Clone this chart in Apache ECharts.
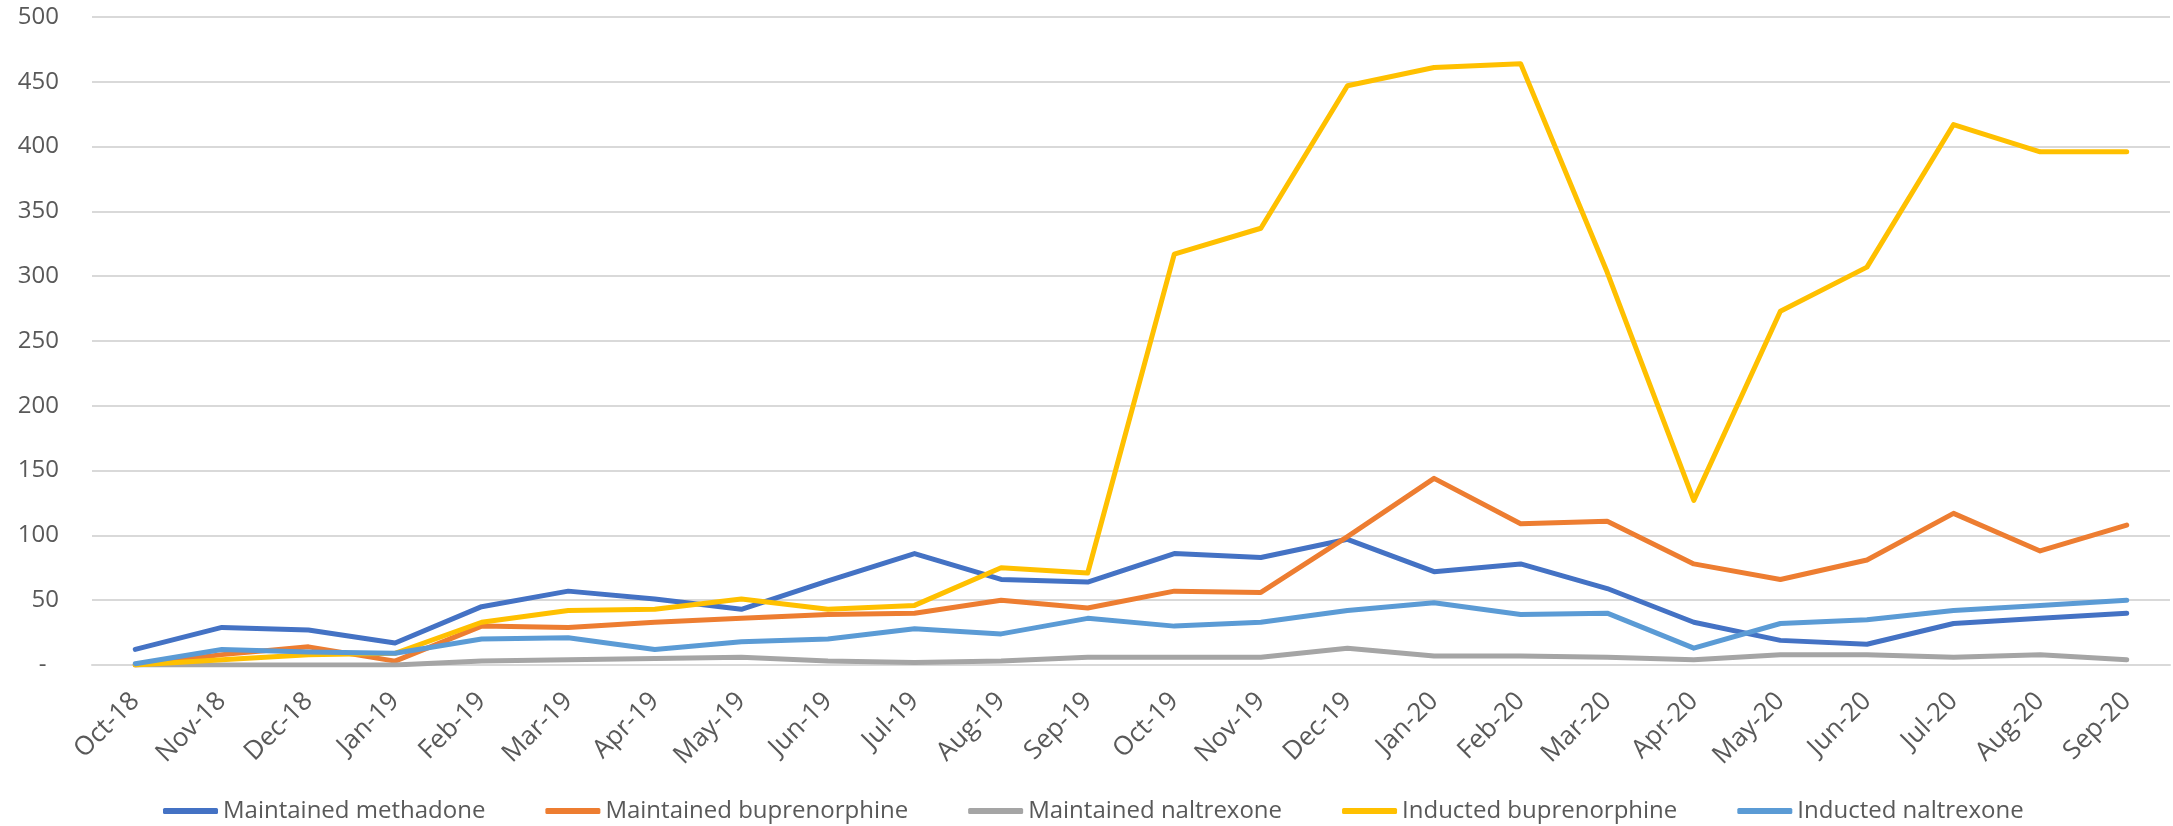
<!DOCTYPE html>
<html>
<head>
<meta charset="utf-8">
<title>MOUD trends</title>
<script src="https://cdn.jsdelivr.net/npm/echarts@6/dist/echarts.min.js"></script>
<style>
  html, body { margin: 0; padding: 0; background: #fff; }
  #chart { width: 2173px; height: 826px; }
</style>
</head>
<body>
<div id="chart"></div>
<script>
const months = [
  "Oct-18", "Nov-18", "Dec-18", "Jan-19", "Feb-19", "Mar-19", "Apr-19", "May-19",
  "Jun-19", "Jul-19", "Aug-19", "Sep-19", "Oct-19", "Nov-19", "Dec-19", "Jan-20",
  "Feb-20", "Mar-20", "Apr-20", "May-20", "Jun-20", "Jul-20", "Aug-20", "Sep-20",
];

const maintainedMethadone = [12, 29, 27, 17, 45, 57, 51, 43, 65, 86, 66, 64, 86, 83, 97, 72, 78, 59, 33, 19, 16, 32, 36, 40];
const maintainedBuprenorphine = [0, 8, 14, 3, 30, 29, 33, 36, 39, 40, 50, 44, 57, 56, 99, 144, 109, 111, 78, 66, 81, 117, 88, 108];
const maintainedNaltrexone = [0, 0, 0, 0, 3, 4, 5, 6, 3, 2, 3, 6, 6, 6, 13, 7, 7, 6, 4, 8, 8, 6, 8, 4];
const inductedBuprenorphine = [0, 4, 8, 9, 33, 42, 43, 51, 43, 46, 75, 71, 317, 337, 447, 461, 464, 303, 127, 273, 307, 417, 396, 396];
const inductedNaltrexone = [1, 12, 10, 9, 20, 21, 12, 18, 20, 28, 24, 36, 30, 33, 42, 48, 39, 40, 13, 32, 35, 42, 46, 50];

const seriesNames = [
  "Maintained methadone",
  "Maintained buprenorphine",
  "Maintained naltrexone",
  "Inducted buprenorphine",
  "Inducted naltrexone",
];
const seriesData = [
  maintainedMethadone,
  maintainedBuprenorphine,
  maintainedNaltrexone,
  inductedBuprenorphine,
  inductedNaltrexone,
];
const colors = ["#4472C4", "#ED7D31", "#A5A5A5", "#FFC000", "#5B9BD5"];

const textColor = "#595959";
const font = "'Open Sans', sans-serif";

const chart = echarts.init(document.getElementById("chart"));
chart.setOption({
  animation: false,
  color: colors,
  grid: {
    left: 92,
    right: 3,
    top: 17,
    bottom: 161,
    outerBoundsMode: "none",
  },
  legend: {
    data: seriesNames,
    left: 158,
    top: 794,
    icon: "roundRect",
    itemWidth: 55,
    itemHeight: 6,
    itemGap: 60,
    textStyle: {
      color: textColor,
      fontFamily: font,
      fontSize: 24,
    },
  },
  xAxis: {
    type: "category",
    data: months,
    boundaryGap: true,
    axisLine: { lineStyle: { color: "#D9D9D9", width: 2 } },
    axisTick: { show: false },
    axisLabel: {
      rotate: 45,
      margin: 32,
      interval: 0,
      color: textColor,
      fontFamily: font,
      fontSize: 26,
    },
  },
  yAxis: {
    type: "value",
    min: 0,
    max: 500,
    interval: 50,
    axisLine: { show: false },
    axisTick: { show: false },
    axisLabel: {
      margin: 33,
      align: "right",
      color: textColor,
      fontFamily: font,
      fontSize: 24,
      formatter: (v) => (v === 0 ? "-  " : String(v)),
    },
    splitLine: { lineStyle: { color: "#D9D9D9", width: 2 } },
  },
  series: seriesNames.map((name, i) => ({
    name,
    type: "line",
    data: seriesData[i],
    showSymbol: false,
    symbol: "none",
    lineStyle: { width: 5, cap: "round", join: "round", color: colors[i] },
    itemStyle: { color: colors[i] },
  })),
});

window.addEventListener("resize", () => {
  chart.resize();
});
</script>
</body>
</html>
